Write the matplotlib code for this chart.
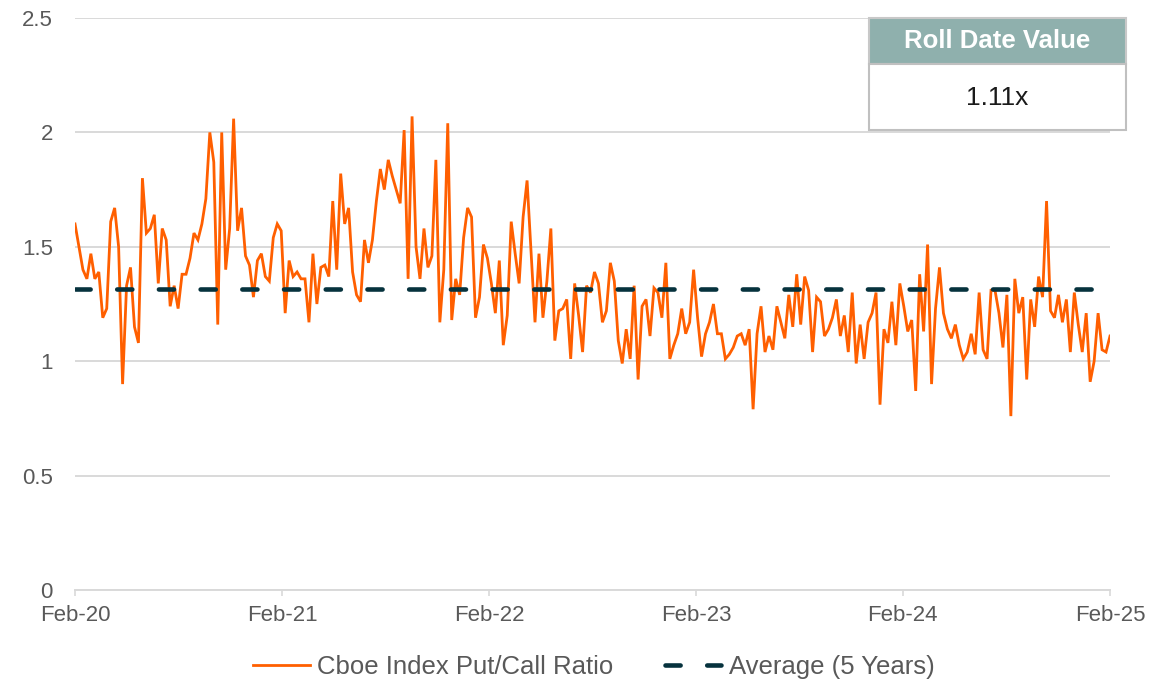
import matplotlib
matplotlib.use("Agg")
import matplotlib.pyplot as plt
from matplotlib.patches import Rectangle
import pandas as pd

plt.rcParams['font.family'] = ['Liberation Sans', 'DejaVu Sans']

# ---- data (weekly Cboe Index Put/Call Ratio) ----
ratio = [
    1.60, 1.50, 1.40, 1.36, 1.47, 1.36, 1.39, 1.19, 1.23, 1.61, 1.67, 1.50, 0.90, 1.33, 1.41, 1.15, 1.08, 1.80,
    1.56, 1.58, 1.64, 1.34, 1.58, 1.53, 1.24, 1.33, 1.23, 1.38, 1.38, 1.45, 1.56, 1.53, 1.60, 1.71, 2.00, 1.87,
    1.16, 2.00, 1.40, 1.58, 2.06, 1.57, 1.67, 1.46, 1.42, 1.28, 1.44, 1.47, 1.37, 1.35, 1.54, 1.60,
    1.57, 1.21, 1.44, 1.37, 1.39, 1.36, 1.36, 1.17, 1.47, 1.25, 1.41, 1.42, 1.37, 1.70, 1.40, 1.82, 1.60, 1.67,
    1.39, 1.29, 1.26, 1.53, 1.43, 1.53, 1.70, 1.84, 1.75, 1.88, 1.81, 1.75, 1.69, 2.01, 1.36, 2.07, 1.50, 1.36,
    1.58, 1.41, 1.46, 1.88, 1.17, 1.40, 2.04, 1.18, 1.36, 1.29, 1.54, 1.67, 1.63, 1.19, 1.28, 1.51, 1.45,
    1.34, 1.21, 1.44, 1.07, 1.20, 1.61, 1.47, 1.34, 1.63, 1.79, 1.48, 1.17, 1.47, 1.19, 1.35, 1.58, 1.09, 1.22,
    1.23, 1.27, 1.01, 1.34, 1.20, 1.04, 1.33, 1.30, 1.39, 1.34, 1.17, 1.22, 1.43, 1.35, 1.09, 0.99, 1.14, 1.01,
    1.33, 0.92, 1.24, 1.27, 1.11, 1.32, 1.30, 1.19, 1.43, 1.01, 1.07, 1.12, 1.23, 1.12, 1.17, 1.40, 1.19,
    1.02, 1.12, 1.17, 1.25, 1.12, 1.12, 1.01, 1.03, 1.06, 1.11, 1.12, 1.07, 1.14, 0.79, 1.12, 1.24, 1.04, 1.11,
    1.05, 1.24, 1.17, 1.10, 1.29, 1.15, 1.38, 1.16, 1.37, 1.31, 1.04, 1.28, 1.26, 1.11, 1.14, 1.19, 1.27, 1.11,
    1.20, 1.04, 1.30, 0.99, 1.16, 1.01, 1.17, 1.21, 1.30, 0.81, 1.14, 1.08, 1.26, 1.07, 1.34, 1.24, 1.13,
    1.18, 0.87, 1.38, 1.13, 1.51, 0.90, 1.23, 1.41, 1.21, 1.14, 1.10, 1.16, 1.07, 1.01, 1.04, 1.12, 1.03, 1.30,
    1.05, 1.01, 1.31, 1.31, 1.21, 1.06, 1.29, 0.76, 1.36, 1.21, 1.28, 0.92, 1.27, 1.15, 1.37, 1.28, 1.70, 1.22,
    1.19, 1.29, 1.17, 1.27, 1.04, 1.30, 1.16, 1.04, 1.21, 0.91, 1.00, 1.21, 1.05, 1.04, 1.11,
]
start_date = "2020-02-01"
average_value = 1.315
series_label = "Cboe Index Put/Call Ratio"
average_label = "Average (5 Years)"
x_tick_dates = ["2020-02-01", "2021-02-01", "2022-02-01", "2023-02-01", "2024-02-01", "2025-02-01"]
x_tick_labels = ["Feb-20", "Feb-21", "Feb-22", "Feb-23", "Feb-24", "Feb-25"]
y_ticks = [0, 0.5, 1, 1.5, 2, 2.5]
y_tick_labels = ["0", "0.5", "1", "1.5", "2", "2.5"]
table_header = "Roll Date Value"
table_value = "1.11x"

dates = pd.date_range(start_date, periods=len(ratio), freq="7D")

W, H = 1175, 681
fig = plt.figure(figsize=(W / 100, H / 100), dpi=100)
ax = fig.add_axes([75 / W, 1 - 590 / H, (1110 - 75) / W, (590 - 18) / H])

ORANGE = "#FF5F00"
TEAL = "#06323D"
GRID = "#D9D9D9"
TXT = "#595959"

ax.plot(dates, ratio, color=ORANGE, lw=2.0, label=series_label, zorder=3,
        solid_joinstyle="miter")
ax.plot([dates[0], dates[-1]], [average_value, average_value], color=TEAL, lw=3.3,
        dashes=(3.3, 5.8), dash_capstyle="round", label=average_label, zorder=4)

ax.set_ylim(0, 2.5)
ax.set_xlim(dates[0], dates[-1])
ax.set_yticks(y_ticks)
ax.set_yticklabels(y_tick_labels)
ax.set_xticks(pd.to_datetime(x_tick_dates))
ax.set_xticklabels(x_tick_labels)

ax.grid(axis="y", color=GRID, lw=1.4)
ax.set_axisbelow(True)
for s in ["left", "right", "top"]:
    ax.spines[s].set_visible(False)
ax.spines["bottom"].set_color(GRID)
ax.spines["bottom"].set_linewidth(1.4)
ax.tick_params(axis="y", length=0, pad=16, labelsize=16, labelcolor=TXT)
ax.tick_params(axis="x", length=4, width=1.2, color=GRID, pad=7, labelsize=16, labelcolor=TXT)

leg = ax.legend(loc="center", bbox_to_anchor=(594 / W, 1 - 667 / H), bbox_transform=fig.transFigure,
                ncol=2, frameon=False, fontsize=18.5, handlelength=2.2, handletextpad=0.3,
                columnspacing=2.0)
for t in leg.get_texts():
    t.set_color(TXT)

# Roll date value table
x0, x1 = 869 / W, 1126 / W
yh_top, yh_bot, yv_bot = 1 - 18 / H, 1 - 64 / H, 1 - 130 / H
fig.patches.append(Rectangle((x0, yh_bot), x1 - x0, yh_top - yh_bot, transform=fig.transFigure,
                             facecolor="#8FB0AD", edgecolor="#C8C8C8", lw=1.5, zorder=5))
fig.patches.append(Rectangle((x0, yv_bot), x1 - x0, yh_bot - yv_bot, transform=fig.transFigure,
                             facecolor="white", edgecolor="#C0C0C0", lw=1.5, zorder=5))
fig.text((x0 + x1) / 2, (yh_top + yh_bot) / 2, table_header, ha="center", va="center",
         color="white", fontsize=18.5, fontweight="bold", zorder=6)
fig.text((x0 + x1) / 2, (yh_bot + yv_bot) / 2 - 0.002, table_value, ha="center", va="center",
         color="#1A1A1A", fontsize=19, zorder=6)

fig.savefig("out.png", dpi=100)
